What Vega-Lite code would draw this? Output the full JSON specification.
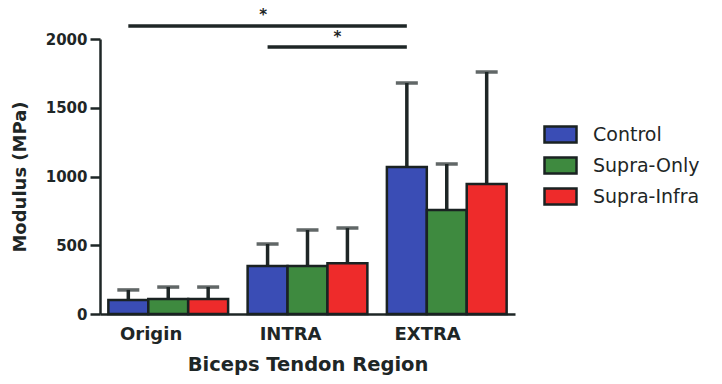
{
  "$schema": "https://vega.github.io/schema/vega-lite/v6.json",
  "width": 415,
  "height": 275,
  "autosize": {"type": "none"},
  "padding": {"left": 100, "top": 39, "right": 207, "bottom": 70},
  "background": "white",
  "config": {
    "view": {"stroke": null},
    "font": "DejaVu Sans",
    "axis": {
      "domainColor": "#1e2626",
      "domainWidth": 2.5,
      "tickColor": "#1e2626",
      "tickWidth": 2.5,
      "labelColor": "#1e2626",
      "titleColor": "#1e2626",
      "labelFont": "DejaVu Sans",
      "titleFont": "DejaVu Sans",
      "labelFontWeight": "bold",
      "titleFontWeight": "bold",
      "grid": false
    }
  },
  "datasets": {
    "bars": [
      {"region": "Origin", "group": "Control", "modulus": 102, "upper": 175},
      {"region": "Origin", "group": "Supra-Only", "modulus": 110, "upper": 196},
      {"region": "Origin", "group": "Supra-Infra", "modulus": 110, "upper": 196},
      {"region": "INTRA", "group": "Control", "modulus": 349, "upper": 509},
      {"region": "INTRA", "group": "Supra-Only", "modulus": 349, "upper": 611},
      {"region": "INTRA", "group": "Supra-Infra", "modulus": 370, "upper": 625},
      {"region": "EXTRA", "group": "Control", "modulus": 1069, "upper": 1680},
      {"region": "EXTRA", "group": "Supra-Only", "modulus": 756, "upper": 1091},
      {"region": "EXTRA", "group": "Supra-Infra", "modulus": 945, "upper": 1760}
    ],
    "sig": [
      {"comparison": "Origin vs EXTRA", "region": "Origin", "group": "Control", "y": 2094},
      {"comparison": "Origin vs EXTRA", "region": "EXTRA", "group": "Control", "y": 2094},
      {"comparison": "INTRA vs EXTRA", "region": "INTRA", "group": "Control", "y": 1942},
      {"comparison": "INTRA vs EXTRA", "region": "EXTRA", "group": "Control", "y": 1942}
    ]
  },
  "layer": [
    {
      "data": {"name": "bars"},
      "mark": {"type": "rule", "color": "#1e2626", "strokeWidth": 3.5},
      "encoding": {
        "x": {"field": "region", "type": "nominal", "scale": {"domain": ["Origin", "INTRA", "EXTRA"]}},
        "xOffset": {"field": "group", "type": "nominal", "scale": {"domain": ["Control", "Supra-Only", "Supra-Infra"]}},
        "y": {"field": "modulus", "type": "quantitative"},
        "y2": {"field": "upper"}
      }
    },
    {
      "data": {"name": "bars"},
      "mark": {"type": "tick", "color": "#1e2626", "thickness": 3.5, "size": 22, "orient": "horizontal"},
      "encoding": {
        "x": {"field": "region", "type": "nominal", "scale": {"domain": ["Origin", "INTRA", "EXTRA"]}},
        "xOffset": {"field": "group", "type": "nominal", "scale": {"domain": ["Control", "Supra-Only", "Supra-Infra"]}},
        "y": {"field": "upper", "type": "quantitative"}
      }
    },
    {
      "data": {"name": "bars"},
      "mark": {"type": "bar", "stroke": "#1a2222", "strokeWidth": 2.5},
      "encoding": {
        "x": {
          "field": "region",
          "type": "nominal",
          "scale": {"domain": ["Origin", "INTRA", "EXTRA"], "paddingInner": 0.14, "paddingOuter": 0.06},
          "axis": {
            "title": "Biceps Tendon  Region",
            "labelAngle": 0,
            "ticks": false,
            "labelFontSize": 18,
            "labelPadding": 20,
            "labelOffset": 14,
            "titleFontSize": 19.5,
            "titlePadding": 12
          }
        },
        "xOffset": {
          "field": "group",
          "type": "nominal",
          "scale": {"domain": ["Control", "Supra-Only", "Supra-Infra"], "paddingInner": 0.0}
        },
        "y": {
          "field": "modulus",
          "type": "quantitative",
          "scale": {"domain": [0, 2000], "nice": false},
          "axis": {
            "title": "Modulus (MPa)",
            "values": [0, 500, 1000, 1500, 2000],
            "format": "d",
            "tickSize": 10,
            "labelPadding": 3,
            "labelFontSize": 15,
            "titleFontSize": 18,
            "titlePadding": 16
          }
        },
        "color": {
          "field": "group",
          "type": "nominal",
          "scale": {
            "domain": ["Control", "Supra-Only", "Supra-Infra"],
            "range": ["#3a4db5", "#3e8a3f", "#ee2b2b"]
          },
          "legend": {
            "title": null,
            "orient": "none",
            "legendX": 443,
            "legendY": 78,
            "padding": 0,
            "symbolType": "M-1,-0.5H1V0.5H-1Z",
            "symbolSize": 1024,
            "symbolStrokeColor": "#1a2222",
            "symbolStrokeWidth": 2.5,
            "symbolOpacity": 1,
            "labelFontSize": 19,
            "labelColor": "#1e2626",
            "labelFont": "DejaVu Sans",
            "labelOffset": 15,
            "rowPadding": -1
          }
        }
      }
    },
    {
      "data": {"name": "sig"},
      "mark": {"type": "line", "color": "#1e2626", "strokeWidth": 3.5},
      "encoding": {
        "x": {"field": "region", "type": "nominal", "scale": {"domain": ["Origin", "INTRA", "EXTRA"]}},
        "xOffset": {"field": "group", "type": "nominal", "scale": {"domain": ["Control", "Supra-Only", "Supra-Infra"]}},
        "y": {"field": "y", "type": "quantitative"},
        "detail": {"field": "comparison"}
      }
    },
    {
      "data": {"values": [{"region": "INTRA", "y": 2175, "s": "*"}]},
      "mark": {"type": "text", "fontSize": 15, "fontWeight": "bold", "color": "#1e2626", "baseline": "middle"},
      "encoding": {
        "x": {"field": "region", "type": "nominal", "bandPosition": 0.13, "scale": {"domain": ["Origin", "INTRA", "EXTRA"]}},
        "y": {"field": "y", "type": "quantitative"},
        "text": {"field": "s"}
      }
    },
    {
      "data": {"values": [{"region": "INTRA", "y": 2015, "s": "*"}]},
      "mark": {"type": "text", "fontSize": 15, "fontWeight": "bold", "color": "#1e2626", "baseline": "middle"},
      "encoding": {
        "x": {"field": "region", "type": "nominal", "bandPosition": 0.75, "scale": {"domain": ["Origin", "INTRA", "EXTRA"]}},
        "y": {"field": "y", "type": "quantitative"},
        "text": {"field": "s"}
      }
    }
  ]
}
